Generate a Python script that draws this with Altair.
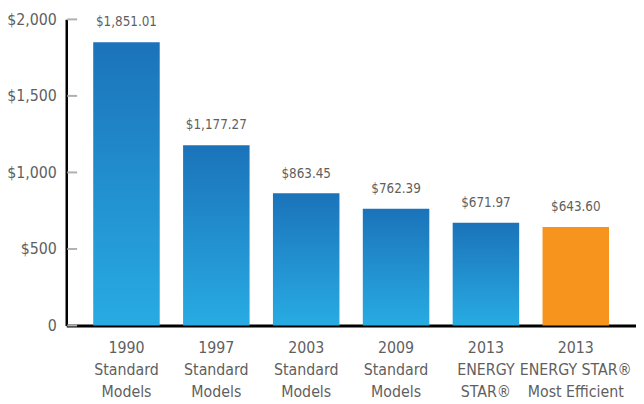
import altair as alt
import pandas as pd

years = ["1990", "1997", "2003", "2009", "2013", "2013"]
line2 = ["Standard", "Standard", "Standard", "Standard", "ENERGY", "ENERGY STAR®"]
line3 = ["Models", "Models", "Models", "Models", "STAR®", "Most Efficient"]
costs = [1851.01, 1177.27, 863.45, 762.39, 671.97, 643.60]
kinds = ["blue", "blue", "blue", "blue", "blue", "orange"]
y_ticks = [0, 500, 1000, 1500, 2000]

cats = [f"{i}|{y}|{a}|{b}" for i, (y, a, b) in enumerate(zip(years, line2, line3))]
df = pd.DataFrame({"cat": cats, "cost": costs, "kind": kinds,
                   "label": [f"${c:,.2f}" for c in costs]})
ticks_df = pd.DataFrame({"v": y_ticks})

FONT = "DejaVu Sans Condensed"
TEXT = "#5f5f5f"

x_enc = alt.X("cat:N", sort=cats,
              scale=alt.Scale(paddingInner=0.26, paddingOuter=0.3),
              axis=alt.Axis(title=None, labelAngle=0, ticks=False,
                            domainColor="black", domainWidth=3,
                            labelExpr="slice(split(datum.label, '|'), 1)",
                            labelFont=FONT, labelFontSize=16, labelColor=TEXT,
                            labelPadding=14, labelLineHeight=22.5,
                            labelBaseline="top"))
y_scale = alt.Scale(domain=[0, 2000])

blue_grad = alt.LinearGradient(
    gradient="linear", x1=0, y1=0, x2=0, y2=1,
    stops=[alt.GradientStop(color="#1b73ba", offset=0),
           alt.GradientStop(color="#28abe2", offset=1)])

base = alt.Chart(df)

blue = base.transform_filter("datum.kind == 'blue'").mark_bar(color=blue_grad).encode(
    x=x_enc,
    y=alt.Y("cost:Q", scale=y_scale,
            axis=alt.Axis(title=None, values=y_ticks, grid=False, ticks=False,
                          domainColor="black", domainWidth=2.5,
                          labelExpr="datum.value == 0 ? '0' : '$' + format(datum.value, ',')",
                          labelFont=FONT, labelFontSize=16, labelColor=TEXT,
                          labelPadding=10)),
)
orange = base.transform_filter("datum.kind == 'orange'").mark_bar(color="#f7941d").encode(
    x=alt.X("cat:N", sort=cats), y=alt.Y("cost:Q", scale=y_scale))

labels = base.mark_text(font=FONT, fontSize=13.5, color=TEXT, baseline="alphabetic",
                        dy=-16).encode(
    x=alt.X("cat:N", sort=cats), y=alt.Y("cost:Q", scale=y_scale), text="label:N")

tick_marks = alt.Chart(ticks_df).mark_rule(color="#b0b0b0", strokeWidth=2).encode(
    y=alt.Y("v:Q", scale=y_scale), x=alt.value(1), x2=alt.value(11))

chart = alt.layer(blue, orange, labels, tick_marks).properties(
    width=577, height=310,
    padding={"left": 59, "top": 9, "right": 0, "bottom": 77},
    autosize=alt.AutoSizeParams(type="none"),
).configure_view(stroke=None)

chart.save("out.html", embed_options={"renderer": "svg", "actions": False})
